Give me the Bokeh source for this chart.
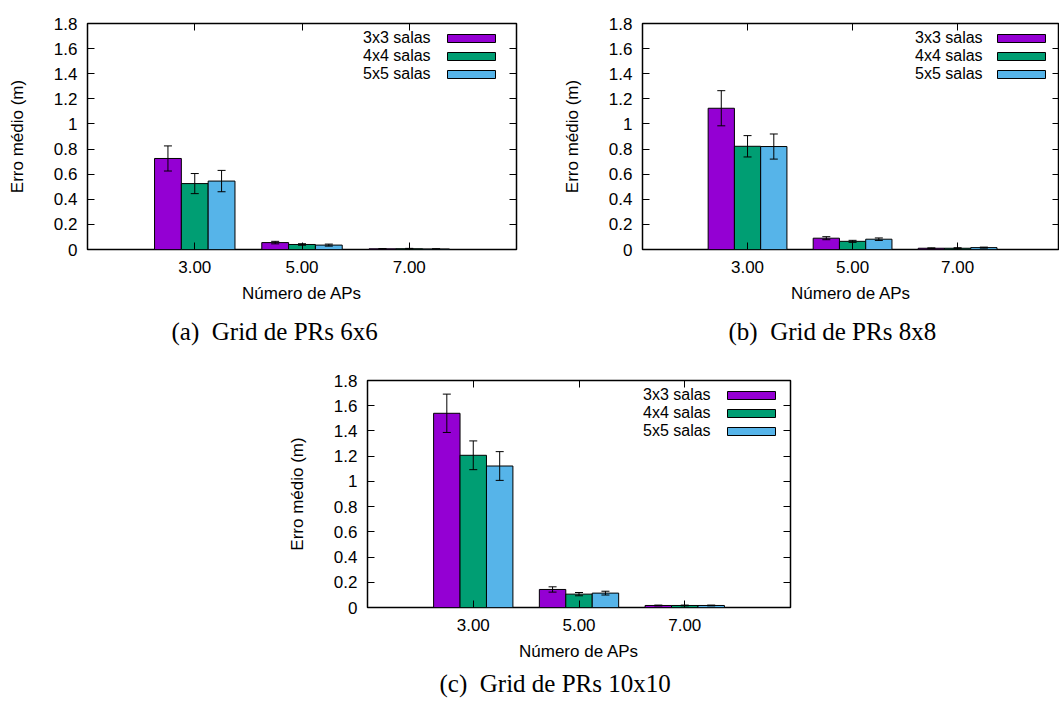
from bokeh.plotting import figure
from bokeh.models import (ColumnDataSource, Range1d, FixedTicker, LinearAxis, Whisker, TeeHead,
                          Legend, LegendItem, Title, Spacer)
from bokeh.layouts import column, row
from bokeh.transform import dodge
from bokeh.embed import file_html
from bokeh.resources import INLINE

# ---------------- data ----------------
aps = [3, 5, 7]
x_tick_labels = ["3.00", "5.00", "7.00"]
y_ticks = [0, 0.2, 0.4, 0.6, 0.8, 1, 1.2, 1.4, 1.6, 1.8]
y_tick_labels = ["0", "0.2", "0.4", "0.6", "0.8", "1", "1.2", "1.4", "1.6", "1.8"]
series_names = ["3x3 salas", "4x4 salas", "5x5 salas"]
colors = ["#9400d3", "#009e73", "#56b4e9"]

# (a) Grid de PRs 6x6
g6_3x3 = [0.725, 0.055, 0.005]
g6_4x4 = [0.525, 0.040, 0.006]
g6_5x5 = [0.545, 0.035, 0.004]
g6_3x3_err = [0.100, 0.010, 0.002]
g6_4x4_err = [0.080, 0.006, 0.003]
g6_5x5_err = [0.085, 0.008, 0.002]

# (b) Grid de PRs 8x8
g8_3x3 = [1.125, 0.090, 0.010]
g8_4x4 = [0.822, 0.065, 0.010]
g8_5x5 = [0.820, 0.082, 0.015]
g8_3x3_err = [0.140, 0.012, 0.003]
g8_4x4_err = [0.085, 0.008, 0.004]
g8_5x5_err = [0.100, 0.010, 0.004]

# (c) Grid de PRs 10x10
g10_3x3 = [1.540, 0.143, 0.016]
g10_4x4 = [1.207, 0.106, 0.016]
g10_5x5 = [1.122, 0.114, 0.016]
g10_3x3_err = [0.152, 0.021, 0.003]
g10_4x4_err = [0.114, 0.013, 0.003]
g10_5x5_err = [0.114, 0.015, 0.003]

captions = ["(a)\u00a0 Grid de PRs 6x6", "(b)\u00a0 Grid de PRs 8x8", "(c)\u00a0 Grid de PRs 10x10"]
x_axis_label = "Número de APs"
y_axis_label = "Erro médio (m)"

SANS = "Liberation Sans"
SERIF = "Liberation Serif"
FS = "17px"
LFS = "16px"


def make_chart(means, errs, caption, width, height, b_left, b_right, b_top, b_bottom,
               x_end, cap_offset, cap_standoff, leg_text_dx, leg_box_dx):
    fh = height - b_top - b_bottom
    data = dict(aps=aps)
    for i, (m, e) in enumerate(zip(means, errs)):
        data[f"m{i}"] = m
        data[f"lo{i}"] = [a - b for a, b in zip(m, e)]
        data[f"hi{i}"] = [a + b for a, b in zip(m, e)]
    src = ColumnDataSource(data)

    p = figure(width=width, height=height, x_range=Range1d(1, x_end), y_range=Range1d(0, 1.8),
               output_backend="svg", toolbar_location=None,
               min_border_left=b_left, min_border_right=b_right,
               min_border_top=b_top, min_border_bottom=b_bottom)
    p.xgrid.visible = False
    p.ygrid.visible = False
    p.outline_line_color = "black"
    p.outline_line_width = 1.5
    p.background_fill_color = "white"
    p.border_fill_color = "white"

    offsets = [-0.5, 0.0, 0.5]
    bars = []
    for i in range(3):
        r = p.vbar(x=dodge("aps", offsets[i]), top=f"m{i}", bottom=0, width=0.5, source=src,
                   fill_color=colors[i], line_color="black", line_width=1)
        bars.append(r)
        w = Whisker(source=src, base=dodge("aps", offsets[i]), upper=f"hi{i}", lower=f"lo{i}",
                    line_color="black", line_width=1, level="annotation",
                    upper_head=TeeHead(size=8, line_color="black", line_width=1),
                    lower_head=TeeHead(size=8, line_color="black", line_width=1))
        p.add_layout(w)

    # left axis
    ya = p.yaxis[0]
    ya.ticker = FixedTicker(ticks=y_ticks)
    ya.major_label_overrides = dict(zip(y_ticks, y_tick_labels))
    ya.axis_label = y_axis_label
    # bottom axis
    xa = p.xaxis[0]
    xa.ticker = FixedTicker(ticks=aps)
    xa.major_label_overrides = dict(zip(aps, x_tick_labels))
    xa.axis_label = x_axis_label
    for ax, st, lst in ((ya, 10, 24), (xa, 11, 8)):
        ax.axis_line_color = None
        ax.major_tick_in = 7
        ax.major_tick_out = 0
        ax.major_tick_line_color = "black"
        ax.minor_tick_line_color = None
        ax.major_label_standoff = st
        ax.axis_label_standoff = lst
        ax.major_label_text_font = SANS
        ax.major_label_text_font_size = FS
        ax.major_label_text_color = "black"
        ax.axis_label_text_font = SANS
        ax.axis_label_text_font_size = FS
        ax.axis_label_text_font_style = "normal"
        ax.axis_label_text_color = "black"

    # mirrored ticks (right, top)
    ra = LinearAxis(ticker=FixedTicker(ticks=y_ticks),
                    major_label_overrides={t: "" for t in y_ticks})
    ta = LinearAxis(ticker=FixedTicker(ticks=aps),
                    major_label_overrides={t: "" for t in aps})
    for ax in (ra, ta):
        ax.axis_line_color = None
        ax.major_tick_in = 7
        ax.major_tick_out = 0
        ax.major_tick_line_color = "black"
        ax.minor_tick_line_color = None
        ax.major_label_standoff = 0
        ax.major_label_text_font_size = "1px"
    p.add_layout(ra, "right")
    p.add_layout(ta, "above")

    # legend: text part then box part (gnuplot key style)
    ghost = p.vbar(x="aps", top="m0", width=0.5, source=src, fill_alpha=0, line_alpha=0)
    leg_text = Legend(items=[LegendItem(label=n, renderers=[ghost]) for n in series_names],
                      location=(leg_text_dx, fh - 6 - 54), glyph_width=0, glyph_height=18,
                      label_standoff=0, label_height=18, label_width=0, padding=0, margin=0, spacing=0,
                      border_line_color=None, background_fill_alpha=0,
                      label_text_font=SANS, label_text_font_size=LFS, label_text_color="black")
    leg_box = Legend(items=[LegendItem(label=" ", renderers=[r]) for r in bars],
                     location=(leg_box_dx - 6, fh - 10 - 46), glyph_width=60, glyph_height=10,
                     label_standoff=0, label_height=0, label_width=0, padding=0, margin=0, spacing=8,
                     border_line_color=None, background_fill_alpha=0,
                     label_text_font=SANS, label_text_font_size="1px")
    p.add_layout(leg_text)
    p.add_layout(leg_box)

    cap = Title(text=caption, align="left", offset=cap_offset, standoff=cap_standoff,
                text_font=SERIF, text_font_size="25px", text_font_style="normal",
                text_color="black")
    p.add_layout(cap, "below")
    return p


pa = make_chart([g6_3x3, g6_4x4, g6_5x5], [g6_3x3_err, g6_4x4_err, g6_5x5_err], captions[0],
                559, 358, 87, 43, 23, 109, 9, 84, 20, 276, 360)
pb = make_chart([g8_3x3, g8_4x4, g8_5x5], [g8_3x3_err, g8_4x4_err, g8_5x5_err], captions[1],
                500, 358, 79, 0, 23, 109, 8.94, 86, 20, 273, 355)
pc = make_chart([g10_3x3, g10_4x4, g10_5x5], [g10_3x3_err, g10_4x4_err, g10_5x5_err], captions[2],
                549, 343, 79, 43, 22, 94, 9, 72, 8, 276, 360)

layout = column(row(pa, pb), row(Spacer(width=284, height=343), pc))

open("out.html", "w").write(file_html(layout, INLINE))
